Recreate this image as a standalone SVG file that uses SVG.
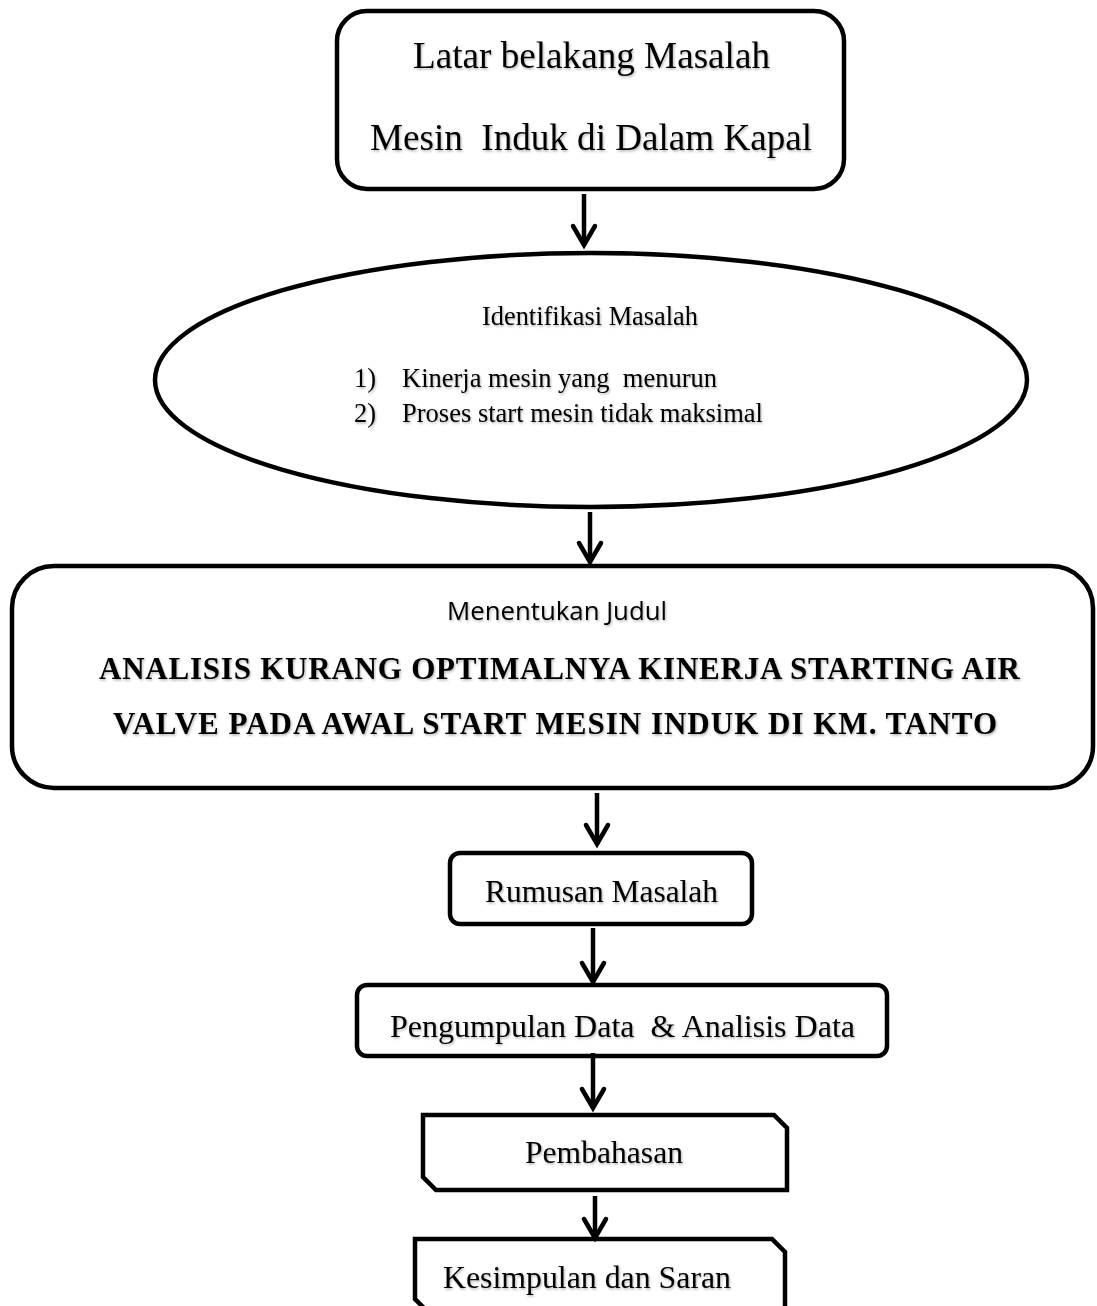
<svg xmlns="http://www.w3.org/2000/svg" width="1097" height="1306" viewBox="0 0 1097 1306">
<defs>
<style>
.box{fill:#fff;stroke:#000;stroke-width:4.5}
.t{font-family:"Liberation Serif","Times New Roman",serif;fill:#000;filter:url(#sh)}
.m{text-anchor:middle}
.st{text-anchor:start}
.s{font-family:"Open Sans","Liberation Sans",sans-serif;fill:#000;text-anchor:middle;filter:url(#sh)}
.c{stroke:#000;stroke-width:4.5;fill:none}
.h{stroke:#000;stroke-width:4.5;fill:none;stroke-linecap:round;stroke-linejoin:miter}
</style>
<filter id="sh" x="-5%" y="-30%" width="110%" height="160%">
<feDropShadow dx="1" dy="1.5" stdDeviation="1" flood-color="#000" flood-opacity="0.3"/>
</filter>
</defs>
<rect width="1097" height="1306" fill="#fff"/>
<g id="latar">
<rect class="box" x="337" y="11" width="507" height="178" rx="30"/>
<text class="t m" x="591.5" y="68" font-size="37" textLength="357" lengthAdjust="spacingAndGlyphs">Latar belakang Masalah</text>
<text class="t m" x="591" y="150" font-size="37" textLength="442" lengthAdjust="spacingAndGlyphs" xml:space="preserve">Mesin  Induk di Dalam Kapal</text>
</g>
<g id="identifikasi">
<ellipse class="box" cx="591" cy="380" rx="436" ry="127"/>
<text class="t m" x="590" y="325" font-size="26.5" textLength="216" lengthAdjust="spacingAndGlyphs">Identifikasi Masalah</text>
<text class="t st" x="354" y="387" font-size="26.5">1)</text>
<text class="t st" x="402" y="387" font-size="26.5" textLength="315" lengthAdjust="spacingAndGlyphs" xml:space="preserve">Kinerja mesin yang  menurun</text>
<text class="t st" x="354" y="422" font-size="26.5">2)</text>
<text class="t st" x="402" y="422" font-size="26.5" textLength="361" lengthAdjust="spacingAndGlyphs">Proses start mesin tidak maksimal</text>
</g>
<g id="judul">
<rect class="box" x="12" y="566" width="1081" height="222" rx="42"/>
<text class="s" x="557" y="620" font-size="25" textLength="220" lengthAdjust="spacingAndGlyphs">Menentukan Judul</text>
<text class="t m" x="559.5" y="679" font-size="31" font-weight="bold" textLength="921" lengthAdjust="spacing">ANALISIS KURANG OPTIMALNYA KINERJA STARTING AIR</text>
<text class="t m" x="555" y="734" font-size="31" font-weight="bold" textLength="884" lengthAdjust="spacing">VALVE PADA AWAL START MESIN INDUK DI KM. TANTO</text>
</g>
<g id="rumusan">
<rect class="box" x="450" y="853" width="302" height="71" rx="10"/>
<text class="t m" x="601.5" y="902" font-size="31" textLength="233" lengthAdjust="spacingAndGlyphs">Rumusan Masalah</text>
</g>
<g id="pengumpulan">
<rect class="box" x="357" y="985" width="530" height="71" rx="10"/>
<text class="t m" x="622.5" y="1037" font-size="31" textLength="465" lengthAdjust="spacingAndGlyphs" xml:space="preserve">Pengumpulan Data  &amp; Analisis Data</text>
</g>
<g id="pembahasan">
<path class="box" d="M423,1115 H774 L787,1128 V1190 H436 L423,1177 Z"/>
<text class="t m" x="604" y="1163" font-size="31" textLength="158" lengthAdjust="spacingAndGlyphs">Pembahasan</text>
</g>
<g id="kesimpulan">
<path class="box" d="M415,1239 H772 L785,1252 V1312 H428 L415,1299 Z"/>
<text class="t m" x="587" y="1288" font-size="31" textLength="288" lengthAdjust="spacingAndGlyphs">Kesimpulan dan Saran</text>
</g>
<g id="connectors">
<line class="c" x1="584" y1="194" x2="584" y2="245"/>
<polyline class="h" points="573,226 584,245 595,226"/>
<line class="c" x1="590" y1="512" x2="590" y2="562"/>
<polyline class="h" points="579,543 590,562 601,543"/>
<line class="c" x1="597" y1="793" x2="597" y2="844"/>
<polyline class="h" points="586,825 597,844 608,825"/>
<line class="c" x1="593" y1="928" x2="593" y2="982"/>
<polyline class="h" points="582,963 593,982 604,963"/>
<line class="c" x1="593" y1="1053" x2="593" y2="1108"/>
<polyline class="h" points="582,1089 593,1108 604,1089"/>
<line class="c" x1="595" y1="1196" x2="595" y2="1238"/>
<polyline class="h" points="584,1219 595,1238 606,1219"/>
</g>
</svg>
